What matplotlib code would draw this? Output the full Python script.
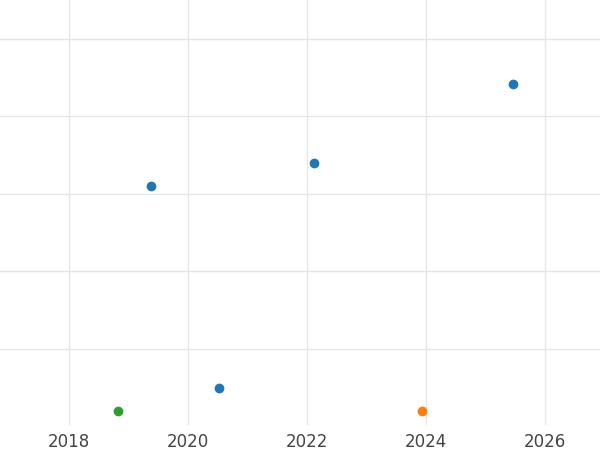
import matplotlib
matplotlib.use("Agg")
import matplotlib.pyplot as plt

blue_x = [2019.38, 2020.52, 2022.12, 2025.46]
blue_y = [3.10, 0.50, 3.40, 4.41]
green_x = [2018.82]
green_y = [0.20]
orange_x = [2023.93]
orange_y = [0.20]
xticks = [2018, 2020, 2022, 2024, 2026]

fig = plt.figure(figsize=(6, 4.5), dpi=100)
ax = fig.add_axes([0, 0.056, 1, 0.944])
ax.scatter(blue_x, blue_y, color="#1f77b4", s=36, zorder=3)
ax.scatter(green_x, green_y, color="#2ca02c", s=36, zorder=3)
ax.scatter(orange_x, orange_y, color="#ff7f0e", s=36, zorder=3)
ax.set_xlim(2016.84, 2026.92)
ax.set_ylim(0.02, 5.5)
ax.set_xticks(xticks)
ax.set_yticks([1, 2, 3, 4, 5])
ax.set_yticklabels([])
ax.grid(True, color="#e6e6e6", linewidth=1)
ax.set_axisbelow(True)
for s in ax.spines.values():
    s.set_visible(False)
ax.tick_params(length=0, labelsize=12, labelcolor="#444444", pad=6)
fig.savefig("out.png", dpi=100)
